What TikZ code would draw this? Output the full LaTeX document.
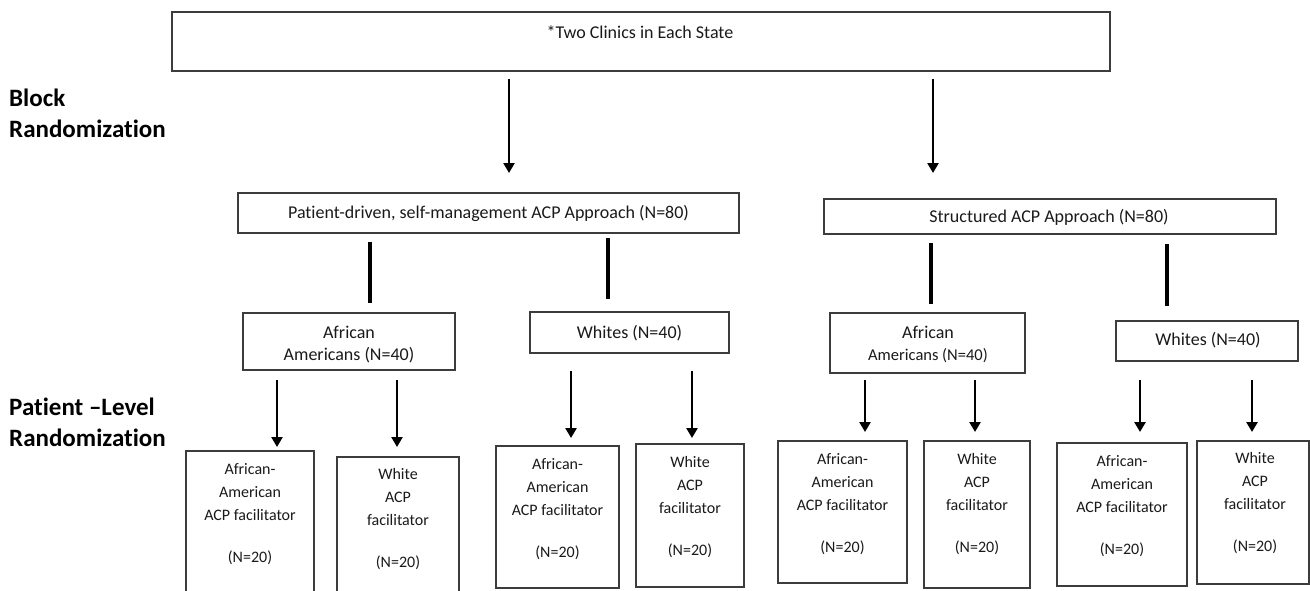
\documentclass[tikz,border=0pt]{standalone}
\usepackage{fontspec}
\setmainfont{Carlito}[Ligatures={TeX,NoCommon}]
\usetikzlibrary{arrows.meta,calc}
\definecolor{boxc}{HTML}{3C3C3C}
\definecolor{txtc}{HTML}{1A1A1A}
\begin{document}
\begin{tikzpicture}[x=1pt,y=-1pt,
  box/.style={draw=boxc, line width=2pt, inner sep=0pt, fill=white},
  txt/.style={text=txtc, inner sep=0pt, align=center, font=\fontsize{18}{22}\selectfont},
  leaftxt/.style={text=txtc, inner sep=0pt, align=center, anchor=north, font=\fontsize{16}{23}\selectfont},
  lbl/.style={text=black, inner sep=0pt, align=left, anchor=north west, font=\fontsize{25}{31}\selectfont\bfseries},
  arr/.style={draw=black, line width=2.8pt, -{Triangle[width=11pt,length=10pt]}},
  thk/.style={draw=black, line width=4.5pt}]
\useasboundingbox (0,0) rectangle (1310,590);
\clip (0,0) rectangle (1310,590);
\fill[white] (0,0) rectangle (1310,590);

% side labels
\node[lbl] (blk) at (9,89) {Block\\Randomization};
\node[lbl] (pl) at (9,398) {Patient –Level\\Randomization};

% top
\node[box, minimum width=938pt, minimum height=59pt] (T) at (641,41.5) {};
\node[txt] (Tt) at (640,32) {*Two Clinics in Each State};

% level 2
\node[box, minimum width=501pt, minimum height=40pt] (PD) at (488.5,213) {};
\node[txt] (PDt) at (488.5,213) {Patient-driven, self-management ACP Approach (N=80)};
\node[box, minimum width=452pt, minimum height=35pt] (ST) at (1050,216.5) {};
\node[txt] (STt) at (1049,217.5) {Structured ACP Approach (N=80)};

% level 3
\node[box, minimum width=212pt, minimum height=57pt] (AA1) at (349,341.5) {};
\node[txt] (AA1t) at (349,345) {African\\Americans (N=40)};
\node[box, minimum width=199pt, minimum height=41pt] (W1) at (629.5,332.5) {};
\node[txt] (W1t) at (629.5,333) {Whites (N=40)};
\node[box, minimum width=195pt, minimum height=60pt] (AA2) at (927.5,343) {};
\node[txt] (AA2t) at (928,344.5) {African\\{\fontsize{16.5}{22}\selectfont Americans (N=40)}};
\node[box, minimum width=182pt, minimum height=40pt] (W2) at (1207,341) {};
\node[txt] (W2t) at (1208,340.5) {Whites (N=40)};

% leaves
\node[box, minimum width=128pt, minimum height=144pt] (L1) at (250,523) {};
\node[box, minimum width=122pt, minimum height=138pt] (L2) at (398,526) {};
\node[box, minimum width=123pt, minimum height=142pt] (L3) at (557.5,517) {};
\node[box, minimum width=108pt, minimum height=143pt] (L4) at (690,515.5) {};
\node[box, minimum width=129pt, minimum height=142pt] (L5) at (842.5,512) {};
\node[box, minimum width=106pt, minimum height=147pt] (L6) at (977,514.5) {};
\node[box, minimum width=130pt, minimum height=143pt] (L7) at (1122,514.5) {};
\node[box, minimum width=112pt, minimum height=143pt] (L8) at (1253,512.5) {};

\node[leaftxt] (L1t) at (250,463) {African-\\American\\ACP facilitator\\[19pt](N=20)};
\node[leaftxt] (L2t) at (398,468) {White\\ACP\\facilitator\\[19pt](N=20)};
\node[leaftxt] (L3t) at (557.5,458) {African-\\American\\ACP facilitator\\[19pt](N=20)};
\node[leaftxt] (L4t) at (690,456) {White\\ACP\\facilitator\\[19pt](N=20)};
\node[leaftxt] (L5t) at (842.5,453) {African-\\American\\ACP facilitator\\[19pt](N=20)};
\node[leaftxt] (L6t) at (977,453) {White\\ACP\\facilitator\\[19pt](N=20)};
\node[leaftxt] (L7t) at (1122,455) {African-\\American\\ACP facilitator\\[19pt](N=20)};
\node[leaftxt] (L8t) at (1255,452) {White\\ACP\\facilitator\\[19pt](N=20)};

% x positions of connectors
\coordinate (xa) at (509,0);
\coordinate (xb) at (933,0);
\coordinate (x1) at (370,0);
\coordinate (x2) at (608,0);
\coordinate (x3) at (931,0);
\coordinate (x4) at (1167,0);
\coordinate (y1) at (277,0);
\coordinate (y2) at (397,0);
\coordinate (y3) at (571,0);
\coordinate (y4) at (692,0);
\coordinate (y5) at (865,0);
\coordinate (y6) at (975,0);
\coordinate (y7) at (1140,0);
\coordinate (y8) at (1252,0);

% block randomization arrows
\draw[arr] ($(T.south -| xa)+(0,7)$) -- ($(PD.north -| xa)+(0,-19)$);
\draw[arr] ($(T.south -| xb)+(0,7)$) -- ($(ST.north -| xb)+(0,-25)$);

% thick bars
\draw[thk] ($(PD.south -| x1)+(0,8)$) -- ($(AA1.north -| x1)+(0,-9)$);
\draw[thk] ($(PD.south -| x2)+(0,4)$) -- ($(W1.north -| x2)+(0,-12)$);
\draw[thk] ($(ST.south -| x3)+(0,8)$) -- ($(AA2.north -| x3)+(0,-8)$);
\draw[thk] ($(ST.south -| x4)+(0,9)$) -- ($(W2.north -| x4)+(0,-14)$);

% patient-level arrows
\draw[arr] ($(AA1.south -| y1)+(0,9)$) -- ($(L1.north -| y1)+(0,-3)$);
\draw[arr] ($(AA1.south -| y2)+(0,9)$) -- ($(L2.north -| y2)+(0,-9)$);
\draw[arr] ($(W1.south -| y3)+(0,17)$) -- ($(L3.north -| y3)+(0,-7)$);
\draw[arr] ($(W1.south -| y4)+(0,17)$) -- ($(L4.north -| y4)+(0,-5)$);
\draw[arr] ($(AA2.south -| y5)+(0,6)$) -- ($(L5.north -| y5)+(0,-8)$);
\draw[arr] ($(AA2.south -| y6)+(0,6)$) -- ($(L6.north -| y6)+(0,-8)$);
\draw[arr] ($(W2.south -| y7)+(0,18)$) -- ($(L7.north -| y7)+(0,-10)$);
\draw[arr] ($(W2.south -| y8)+(0,18)$) -- ($(L8.north -| y8)+(0,-8)$);
\end{tikzpicture}
\end{document}
